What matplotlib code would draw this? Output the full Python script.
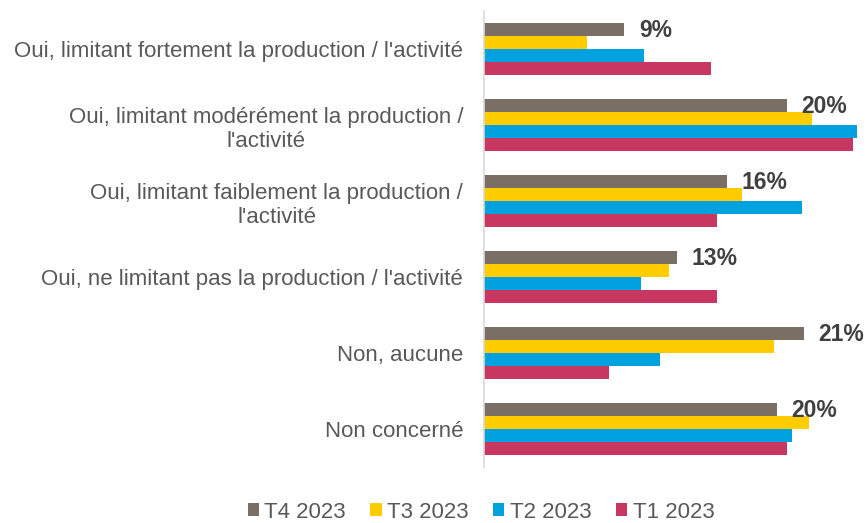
#!/usr/bin/env python3
"""
Horizontal grouped bars - contraintes sur la production, T1 a T4 2023
"""

import matplotlib
matplotlib.use('Agg')
import matplotlib.pyplot as plt
from matplotlib.patches import Patch
import numpy as np

plt.rcParams['font.family'] = ['Liberation Sans', 'DejaVu Sans']

categories = [
    "Oui, limitant fortement la production / l'activité",
    "Oui, limitant modérément la production /\nl'activité",
    "Oui, limitant faiblement la production /\nl'activité",
    "Oui, ne limitant pas la production / l'activité",
    "Non, aucune",
    "Non concerné",
]
series_names = ['T4 2023', 'T3 2023', 'T2 2023', 'T1 2023']
t4_2023 = [9.4, 20.3, 16.3, 12.9, 21.4, 19.6]
t3_2023 = [6.9, 22.0, 17.3, 12.4, 19.4, 21.8]
t2_2023 = [10.75, 25.0, 21.3, 10.5, 11.8, 20.6]
t1_2023 = [15.2, 24.7, 15.6, 15.6, 8.4, 20.3]
t4_labels = ['9%', '20%', '16%', '13%', '21%', '20%']

colors = ['#7A6F64', '#FFCC00', '#00A1DF', '#C83761']
series = [t4_2023, t3_2023, t2_2023, t1_2023]

fig = plt.figure(figsize=(8.67, 5.23), dpi=100)
ax = fig.add_axes([484 / 867, 1 - 467 / 523, 383 / 867, 456 / 523])

bar_h = 0.171
y = np.arange(len(categories))
for k, (vals, col) in enumerate(zip(series, colors)):
    offs = (k - 1.5) * bar_h
    ax.barh(y + offs, vals, height=bar_h, color=col, edgecolor='none')

# value labels only for T4
for i, (v, lab) in enumerate(zip(t4_2023, t4_labels)):
    ax.annotate(lab, xy=(v, y[i] - 1.5 * bar_h), xytext=(10.5, -1),
                textcoords='offset points', va='center', ha='left',
                fontsize=16.5, fontweight='bold', color='#404040')

ax.set_xlim(0, 383 / 14.93)
ax.set_ylim(len(categories) - 0.5, -0.5)
ax.set_yticks(y)
ax.set_yticklabels(categories, fontsize=16, color='#595959',
                   multialignment='center', linespacing=1.2)
ax.tick_params(axis='y', length=0, pad=15)
ax.set_xticks([])
for side in ['top', 'right', 'bottom']:
    ax.spines[side].set_visible(False)
ax.spines['left'].set_color('#D9D9D9')
ax.spines['left'].set_linewidth(1.2)

handles = [Patch(facecolor=c, edgecolor='none') for c in colors]
fig.legend(handles, series_names, loc='center', ncol=4,
           bbox_to_anchor=(481 / 867, 1 - 512 / 523), frameon=False,
           fontsize=16, labelcolor='#595959', handlelength=0.5,
           handleheight=0.5, handletextpad=0.25, columnspacing=1.1,
           borderpad=0.2)

plt.savefig('out.png', dpi=100)
plt.close()
